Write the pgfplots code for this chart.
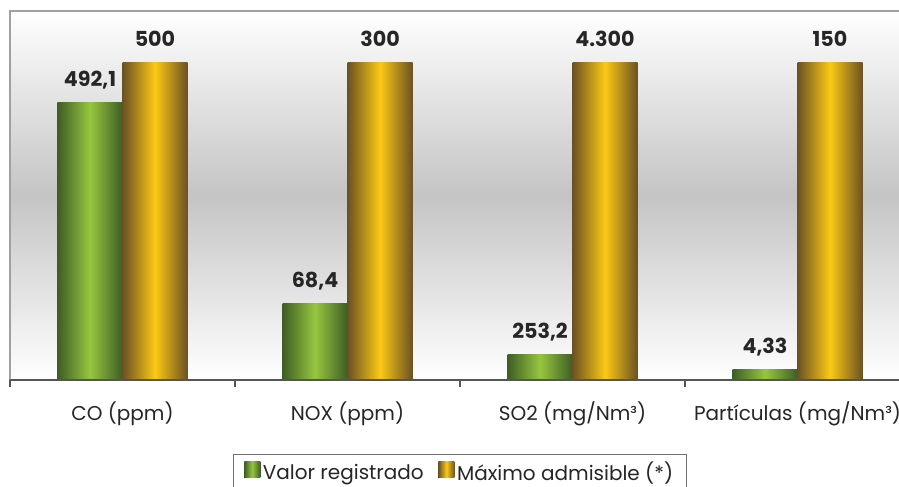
\documentclass[border=0pt]{standalone}
\usepackage{pgfplots}
\pgfplotsset{compat=1.18}
\usepackage{fontspec}
\setmainfont{Poppins}
\definecolor{gdark}{HTML}{3F5E25}
\definecolor{glight}{HTML}{96C63E}
\definecolor{odark}{HTML}{6B5223}
\definecolor{olight}{HTML}{FBC915}
\definecolor{framegray}{HTML}{A0A0A0}
\definecolor{axisdark}{HTML}{555555}
\definecolor{txt}{HTML}{262626}

\pgfplotsset{
  verde/.style={draw=none, bar shift=-0.14445, left color=gdark, right color=gdark, middle color=glight,
    legend image code/.code={\fill[left color=gdark, right color=gdark, middle color=glight] (0pt,-4pt) rectangle (12pt,8pt);}},
  oro/.style={draw=none, bar shift=0.14445, left color=odark, right color=odark, middle color=olight,
    legend image code/.code={\fill[left color=odark, right color=odark, middle color=olight] (0pt,-4pt) rectangle (12pt,8pt);}},
}

\begin{document}
\begin{tikzpicture}
\useasboundingbox (0,0) rectangle (674.25pt,364.5pt);
\clip (0,0) rectangle (674.25pt,364.5pt);
\begin{axis}[
  at={(7.5pt,79.5pt)}, anchor=south west,
  scale only axis, width=675pt, height=276.75pt,
  xmin=-0.5, xmax=3.5, ymin=0, ymax=116.4,
  ybar, bar width=0.2889,
  clip=false,
  axis line style={draw=none},
  ytick=\empty,
  xtick={0,1,2,3},
  xticklabels={CO (ppm), NOX (ppm), SO2 (mg/Nm³), Partículas (mg/Nm³)},
  major tick length=0pt,
  minor xtick={-0.5,0.5,1.5,2.5,3.5},
  minor tick length=5pt,
  tick align=outside, xtick pos=bottom,
  minor tick style={axisdark, line width=0.8pt},
  xticklabel style={font=\fontsize{15}{18}\selectfont, text=txt, anchor=base, yshift=-30pt},
  axis background/.style={top color=white, bottom color=white, middle color=black!23},
  nodes near coords, point meta=explicit symbolic,
  nodes near coords style={font=\bfseries\fontsize{15.5}{19}\selectfont, text=txt, anchor=south, inner sep=0pt, text depth=0pt, yshift=12pt},
  legend style={at={(0.5,-0.2)}, anchor=north, legend columns=2, draw=black!55, fill=white,
    font=\fontsize{15}{18}\selectfont, text=txt, inner xsep=8pt, inner ysep=4pt,
    /tikz/every even column/.append style={column sep=9pt}},
]
% bar heights as drawn (percent of the admissible-maximum bar); labels are the printed values
\addplot[verde] coordinates {(0,87.5) [492,1]};
\addlegendentry{Valor registrado}
\addplot[oro] coordinates {(0,100) [500]};
\addlegendentry{Máximo admisible (*)}
\addplot[verde, forget plot] coordinates {(1,24.0) [68,4]};
\addplot[oro, forget plot] coordinates {(1,100) [300]};
\addplot[verde, forget plot] coordinates {(2,7.9) [253,2]};
\addplot[oro, forget plot] coordinates {(2,100) [4.300]};
\addplot[verde, forget plot] coordinates {(3,3.2) [4,33]};
\addplot[oro, forget plot] coordinates {(3,100) [150]};
\draw[framegray, line width=1.5pt] (rel axis cs:0,0) -- (rel axis cs:0,1) -- (rel axis cs:1,1);
\draw[axisdark, line width=1pt] (rel axis cs:0,0) -- (rel axis cs:1,0);
\end{axis}
\end{tikzpicture}
\end{document}
